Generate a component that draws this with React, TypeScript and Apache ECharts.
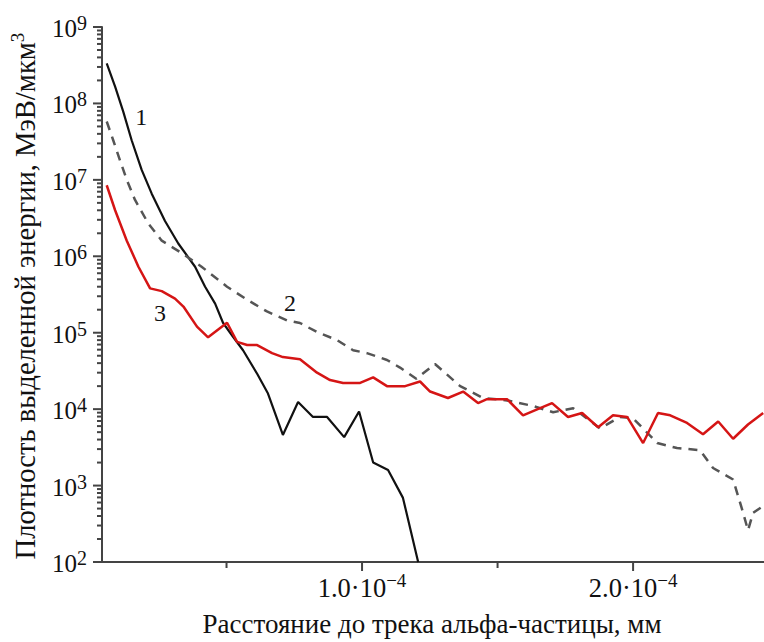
import React, { useEffect, useRef } from "react";
import * as echarts from "echarts";

const FONT = "Liberation Serif";

// Distance to the alpha-particle track, in units of 1e-4 mm
const curve1X = [0.058, 0.089, 0.119, 0.15, 0.187, 0.224, 0.273, 0.322, 0.384, 0.421, 0.458, 0.487, 0.524, 0.561, 0.613, 0.653, 0.708, 0.764, 0.819, 0.871, 0.934, 0.989, 1.041, 1.096, 1.151, 1.207];
// Energy density, MeV/um^3
const curve1Y = [3.35e8, 1.66e8, 7.8e7, 3.3e7, 1.35e7, 6.6e6, 2.9e6, 1.47e6, 7.3e5, 4.0e5, 2.4e5, 1.35e5, 8.8e4, 5.9e4, 2.9e4, 1.6e4, 4.6e3, 1.24e4, 7.9e3, 7.9e3, 4.3e3, 9.3e3, 2.0e3, 1.6e3, 6.9e2, 1.0e2];

const curve2X = [0.058, 0.082, 0.107, 0.132, 0.162, 0.211, 0.261, 0.335, 0.408, 0.502, 0.576, 0.649, 0.723, 0.771, 0.834, 0.908, 0.967, 1.018, 1.092, 1.14, 1.2, 1.269, 1.362, 1.446, 1.535, 1.631, 1.705, 1.779, 1.878, 1.952, 2.0, 2.089, 2.162, 2.247, 2.295, 2.369, 2.406, 2.424, 2.443, 2.483];
const curve2Y = [5.8e7, 3.3e7, 1.8e7, 1.0e7, 5.5e6, 2.7e6, 1.6e6, 1.1e6, 7.3e5, 4.0e5, 2.7e5, 1.9e5, 1.45e5, 1.34e5, 1.02e5, 8.0e4, 5.9e4, 5.4e4, 4.4e4, 3.5e4, 2.5e4, 3.9e4, 2.0e4, 1.4e4, 1.3e4, 1.1e4, 9.1e3, 1.03e4, 5.6e3, 7.9e3, 7.6e3, 3.6e3, 3.1e3, 2.9e3, 1.7e3, 1.2e3, 4.4e2, 2.6e2, 4.4e2, 5.5e2];

const curve3X = [0.058, 0.089, 0.132, 0.175, 0.218, 0.261, 0.31, 0.341, 0.391, 0.432, 0.502, 0.539, 0.576, 0.613, 0.668, 0.708, 0.771, 0.834, 0.882, 0.93, 0.993, 1.041, 1.092, 1.159, 1.214, 1.251, 1.317, 1.373, 1.428, 1.461, 1.535, 1.594, 1.657, 1.701, 1.76, 1.812, 1.871, 1.926, 1.978, 2.037, 2.092, 2.137, 2.199, 2.258, 2.314, 2.369, 2.424, 2.48];
const curve3Y = [8.5e6, 4.0e6, 1.6e6, 7.3e5, 3.8e5, 3.5e5, 2.8e5, 2.2e5, 1.2e5, 8.7e4, 1.35e5, 7.6e4, 6.9e4, 6.9e4, 5.4e4, 4.8e4, 4.5e4, 3.0e4, 2.4e4, 2.2e4, 2.2e4, 2.6e4, 2.0e4, 2.0e4, 2.3e4, 1.7e4, 1.4e4, 1.7e4, 1.2e4, 1.35e4, 1.35e4, 8.3e3, 1.03e4, 1.2e4, 7.9e3, 8.9e3, 5.8e3, 8.3e3, 7.9e3, 3.6e3, 8.9e3, 8.3e3, 6.6e3, 4.7e3, 6.9e3, 4.1e3, 6.3e3, 8.9e3];

// Curve number labels: [x (1e-4 mm), energy density]
const curveLabels = ["1", "2", "3"];
const curveLabelX = [0.185, 0.734, 0.255];
const curveLabelY = [6.6e7, 2.45e5, 1.8e5];

const yExponents = [2, 3, 4, 5, 6, 7, 8, 9];
const xMajorTicks = [1.0, 2.0];
const xMinorTicks = [0.5, 1.5];
const xTickMantissa = ["1.0", "2.0"];
const xTickExponent = "−4";
const yMinorMultipliers = [2, 3, 4, 5, 6, 7, 8, 9];

const xAxisTitle = "Расстояние до трека альфа-частицы, мм";
const yAxisTitle = "Плотность выделенной энергии, МэВ/мкм";

const X_MIN = 0.0406;
const X_MAX = 2.483;

function toData(xs: number[], ys: number[]) {
  return xs.map((x, i) => [x, Math.log10(ys[i])]);
}

export default function App() {
  const ref = useRef<HTMLDivElement>(null);
  useEffect(() => {
    if (!ref.current) return;
    const chart = echarts.init(ref.current, undefined, { renderer: "svg" });
    const axisColor = "#444";
    const labelMark = (i: number) => ({
      coord: [curveLabelX[i], Math.log10(curveLabelY[i])],
      symbol: "circle",
      symbolSize: 0,
      label: {
        show: true,
        position: "inside",
        formatter: curveLabels[i],
        fontSize: 24,
        fontFamily: FONT,
        color: "#111",
      },
    });
    const supRich = (base: number, sup: number, lh: number, lift: number) => ({
      b: { fontSize: base, fontFamily: FONT, color: "#111", verticalAlign: "bottom", lineHeight: lh },
      s: { fontSize: sup, fontFamily: FONT, color: "#111", verticalAlign: "top", lineHeight: lh, padding: [0, 0, lift, 0] },
    });

    // tick marks: [x, logY, length, direction(0 = y-axis tick, 1 = x-axis tick)]
    const tickData: number[][] = [];
    for (const e of yExponents) tickData.push([X_MIN, e, 9, 0]);
    for (const e of yExponents.slice(0, -1)) {
      for (const k of yMinorMultipliers) tickData.push([X_MIN, Math.log10(k * Math.pow(10, e)), 5, 0]);
    }
    for (const v of xMajorTicks) tickData.push([v, 2, 9, 1]);
    for (const v of xMinorTicks) tickData.push([v, 2, 6, 1]);

    chart.setOption({
      animation: false,
      backgroundColor: "#fff",
      textStyle: { fontFamily: FONT },
      grid: {
        left: 102,
        top: 27,
        right: 0,
        bottom: 80,
        containLabel: false,
        outerBoundsMode: "none",
      },
      xAxis: {
        type: "value",
        min: X_MIN,
        max: X_MAX,
        position: "bottom",
        axisLine: { show: true, onZero: false, lineStyle: { color: axisColor, width: 2 } },
        axisTick: { show: false },
        axisLabel: {
          show: true,
          customValues: xMajorTicks,
          margin: 9,
          formatter: (v: number) => {
            const i = xMajorTicks.findIndex((t) => Math.abs(t - v) < 1e-6);
            return `{b|${xTickMantissa[i]}·10}{s|${xTickExponent}}`;
          },
          rich: supRich(26.5, 19, 30, 10),
        },
        splitLine: { show: false },
      },
      yAxis: {
        type: "value",
        min: 2,
        max: 9,
        interval: 1,
        position: "left",
        axisLine: { show: true, onZero: false, lineStyle: { color: axisColor, width: 2 } },
        axisTick: { show: false },
        axisLabel: {
          margin: 15,
          formatter: (v: number) => `{b|10}{s|${v}}`,
          rich: supRich(25, 20, 28, 10),
        },
        splitLine: { show: false },
      },
      graphic: [
        {
          type: "text",
          x: 432,
          y: 624,
          style: {
            text: xAxisTitle,
            fontSize: 27,
            fontFamily: FONT,
            fill: "#111",
            align: "center",
            verticalAlign: "middle",
          },
        },
        {
          type: "text",
          x: 24,
          y: 296,
          rotation: Math.PI / 2,
          style: {
            text: `{b|${yAxisTitle}}{s|3}`,
            fill: "#111",
            align: "center",
            verticalAlign: "middle",
            rich: {
              b: { fontSize: 28.6, fontFamily: FONT, fill: "#111", verticalAlign: "bottom", lineHeight: 32 },
              s: { fontSize: 19, fontFamily: FONT, fill: "#111", verticalAlign: "top", lineHeight: 32, padding: [0, 0, 12, 0] },
            },
          },
        },
      ],
      series: [
        {
          type: "custom",
          name: "ticks",
          silent: true,
          clip: false,
          z: 5,
          data: tickData,
          renderItem: (_params: any, api: any) => {
            const p = api.coord([api.value(0), api.value(1)]);
            const len = api.value(2);
            const isX = api.value(3) === 1;
            return {
              type: "line",
              shape: isX
                ? { x1: p[0], y1: p[1], x2: p[0], y2: p[1] + len }
                : { x1: p[0] - len, y1: p[1], x2: p[0], y2: p[1] },
              style: { stroke: axisColor, lineWidth: 2, fill: null },
            };
          },
        },
        {
          type: "line",
          name: "1",
          data: toData(curve1X, curve1Y),
          showSymbol: false,
          clip: true,
          lineStyle: { color: "#111", width: 2.2 },
          markPoint: { data: [labelMark(0)] },
        },
        {
          type: "line",
          name: "2",
          data: toData(curve2X, curve2Y),
          showSymbol: false,
          clip: true,
          lineStyle: { color: "#555", width: 2.5, type: [9, 7] },
          markPoint: { data: [labelMark(1)] },
        },
        {
          type: "line",
          name: "3",
          data: toData(curve3X, curve3Y),
          showSymbol: false,
          clip: true,
          lineStyle: { color: "#d51515", width: 2.5 },
          markPoint: { data: [labelMark(2)] },
        },
      ],
    });
    return () => chart.dispose();
  }, []);
  return (
    <div
      ref={ref}
      style={{ position: "fixed", left: 0, top: 0, width: 764, height: 642, background: "#fff" }}
    />
  );
}
